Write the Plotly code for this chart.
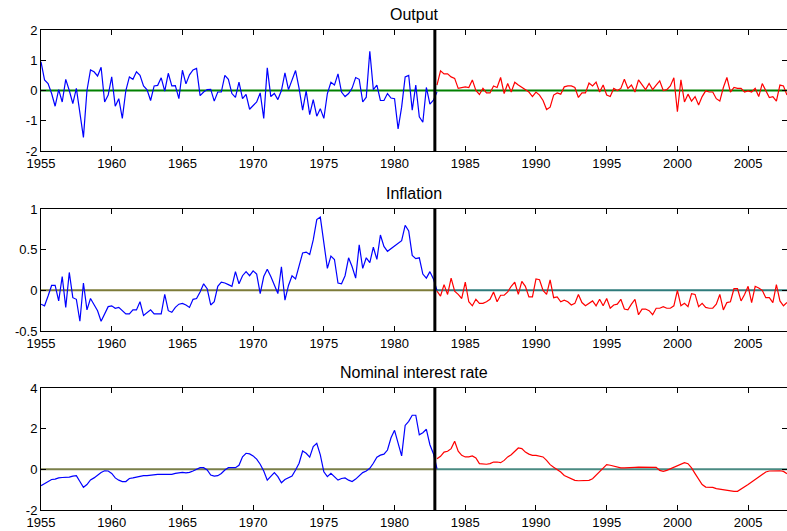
import plotly.graph_objects as go
from plotly.subplots import make_subplots

# quarterly data, 1955Q1 .. 2007Q4; break in 1983Q1
start_year = 1955
break_index = 112
break_line = 1982.85

output_pre = [
    0.95, 0.35, 0.23, -0.1, -0.52, 0.03, -0.38, 0.37, 0.0, -0.43,
    0.07, -0.77, -1.55, 0.0, 0.68, 0.62, 0.48, 0.77, -0.38, -0.15,
    0.45, -0.52, -0.27, -0.92, 0.0, 0.45, 0.37, 0.62, 0.5, 0.15,
    0.02, -0.33, 0.15, 0.17, 0.42, -0.02, 0.57, 0.15, 0.16, -0.27,
    0.67, 0.22, 0.52, 0.68, 0.73, -0.17, -0.05, 0.03, 0.04, -0.35,
    -0.05, -0.05, 0.5, 0.37, -0.1, -0.23, 0.28, -0.27, -0.13, -0.62,
    -0.5, -0.38, -0.08, -0.92, 0.75, -0.2, -0.1, -0.3, 0.0, 0.58,
    0.03, 0.35, 0.66, 0.07, -0.65, -0.01, -0.8, -0.3, -0.85, -0.6,
    -0.92, -0.1, 0.27, 0.18, 0.55, -0.05, -0.2, -0.1, 0.08, 0.43,
    0.37, -0.38, -0.22, 1.3, 0.03, 0.18, -0.33, -0.33, -0.1, -0.25,
    -0.27, -1.27, -0.55, 0.45, 0.5, -0.65, 0.18, -0.87, -1.05, 0.1,
    -0.45, -0.32, -0.05,
]
output_post = [
    0.18, 0.65, 0.55, 0.55, 0.45, 0.4, 0.07, 0.1, 0.12, 0.1,
    0.35, 0.0, -0.13, 0.07, -0.08, -0.08, 0.15, 0.1, 0.43, -0.1,
    0.23, -0.05, 0.27, 0.18, 0.1, 0.03, -0.05, -0.2, -0.05, -0.15,
    -0.33, -0.63, -0.55, -0.15, -0.08, -0.12, 0.12, 0.15, 0.15, 0.1,
    -0.23, -0.08, -0.08, 0.25, 0.15, 0.28, -0.05, 0.18, -0.15, -0.2,
    0.07, 0.0, 0.07, 0.37, 0.07, 0.18, -0.05, 0.35, 0.18, 0.03,
    0.23, 0.03, 0.18, 0.32, 0.0, 0.03, 0.15, 0.42, -0.7, 0.35,
    -0.38, -0.12, -0.35, -0.2, -0.48, -0.2, -0.01, -0.05, -0.05, -0.27,
    -0.35, 0.1, 0.43, -0.05, 0.1, 0.07, 0.07, -0.05, -0.01, -0.05,
    0.07, -0.2, 0.23, 0.0, -0.23, -0.2, -0.35, 0.18, 0.15, -0.15,
]

inflation_pre = [
    -0.17, -0.19, -0.07, 0.06, 0.06, -0.13, 0.17, -0.21, 0.22, -0.09,
    -0.11, -0.38, 0.09, -0.24, -0.1, -0.17, -0.25, -0.38, -0.29, -0.2,
    -0.19, -0.22, -0.21, -0.25, -0.29, -0.29, -0.24, -0.24, -0.14, -0.31,
    -0.27, -0.24, -0.29, -0.29, -0.29, -0.05, -0.25, -0.27, -0.21, -0.17,
    -0.16, -0.18, -0.21, -0.11, -0.1, -0.02, 0.08, 0.02, -0.18, -0.14,
    0.05, 0.1, 0.09, 0.07, 0.05, 0.23, 0.08, 0.18, 0.23, 0.18,
    0.24, 0.2, -0.04, 0.17, 0.26, 0.17, 0.06, -0.04, 0.29, -0.12,
    0.06, 0.18, 0.14, 0.29, 0.46, 0.47, 0.44, 0.62, 0.87, 0.9,
    0.58, 0.27, 0.42, 0.38, 0.09, 0.08, 0.18, 0.4, 0.29, 0.15,
    0.56, 0.27, 0.4, 0.34, 0.53, 0.38, 0.68, 0.54, 0.48, 0.51,
    0.54, 0.57, 0.61, 0.8, 0.73, 0.43, 0.39, 0.4, 0.2, 0.15,
    0.23, 0.14, 0.0,
]
inflation_post = [
    -0.01, -0.07, 0.07, -0.05, 0.15, -0.01, -0.05, -0.1, 0.1, -0.14,
    -0.19, -0.11, -0.16, -0.16, -0.14, -0.11, -0.02, -0.14, -0.06, -0.06,
    -0.02, 0.05, 0.1, -0.05, 0.11, 0.05, -0.08, -0.08, 0.14, 0.13,
    0.0, -0.05, 0.13, -0.09, -0.08, -0.14, -0.12, -0.14, -0.18, -0.16,
    -0.05, -0.15, -0.19, -0.16, -0.13, -0.19, -0.11, -0.19, -0.1, -0.22,
    -0.18, -0.17, -0.11, -0.23, -0.24, -0.17, -0.11, -0.3, -0.23, -0.23,
    -0.25, -0.3, -0.22, -0.22, -0.2, -0.22, -0.22, -0.19, 0.0, -0.19,
    -0.16, -0.2, -0.04, -0.05, -0.2, -0.16, -0.21, -0.22, -0.22, -0.17,
    -0.05, -0.24, -0.15, -0.14, 0.02, 0.02, -0.13, -0.05, 0.05, -0.15,
    0.05, 0.03, 0.0, -0.09, -0.09, -0.15, 0.07, -0.13, -0.19, -0.15,
]

rate_pre = [
    -0.8, -0.7, -0.56, -0.5, -0.48, -0.42, -0.4, -0.4, -0.38, -0.33,
    -0.31, -0.6, -0.88, -0.75, -0.52, -0.42, -0.28, -0.15, -0.07, -0.08,
    -0.2, -0.42, -0.53, -0.6, -0.6, -0.45, -0.42, -0.38, -0.33, -0.31,
    -0.31, -0.28, -0.28, -0.25, -0.25, -0.25, -0.23, -0.25, -0.2, -0.17,
    -0.15, -0.17, -0.15, -0.08, 0.02, 0.08, 0.08, -0.03, -0.28, -0.33,
    -0.31, -0.2, -0.03, 0.08, 0.08, 0.08, 0.2, 0.62, 0.79, 0.76,
    0.66, 0.5, 0.25, -0.08, -0.53, -0.36, -0.16, -0.36, -0.66, -0.5,
    -0.41, -0.33, -0.03, 0.3, 0.9, 0.79, 0.6, 1.12, 1.28, 0.71,
    -0.12, -0.36, -0.2, -0.36, -0.53, -0.45, -0.42, -0.53, -0.6, -0.48,
    -0.31, -0.16, -0.08, 0.05, 0.3, 0.6, 0.7, 0.75, 0.95, 1.55,
    1.92, 1.3, 0.66, 2.16, 2.36, 2.66, 2.66, 1.7, 1.8, 1.97,
    1.21, 0.77, 0.03,
]
rate_post = [
    0.52, 0.64, 0.85, 0.89, 1.02, 1.38, 0.89, 0.69, 0.61, 0.61,
    0.66, 0.56, 0.28, 0.25, 0.25, 0.28, 0.36, 0.36, 0.33, 0.44,
    0.61, 0.72, 0.89, 1.05, 1.02, 0.85, 0.75, 0.69, 0.69, 0.66,
    0.61, 0.44, 0.23, 0.1, 0.0, -0.13, -0.3, -0.38, -0.46, -0.54,
    -0.56, -0.56, -0.56, -0.54, -0.46, -0.3, -0.1, 0.07, 0.23, 0.2,
    0.16, 0.1, 0.07, 0.07, 0.07, 0.07, 0.1, 0.11, 0.11, 0.11,
    0.11, 0.11, 0.1, -0.05, -0.1, -0.05, 0.03, 0.1, 0.16, 0.28,
    0.33, 0.28, 0.07, -0.21, -0.46, -0.75, -0.87, -0.87, -0.89, -0.95,
    -0.98, -1.02, -1.03, -1.07, -1.08, -1.08, -0.98, -0.87, -0.75, -0.62,
    -0.49, -0.38, -0.26, -0.13, -0.08, -0.07, -0.07, -0.07, -0.1, -0.21,
]

titles = ['Output', 'Inflation', 'Nominal interest rate']
y_ranges = [[-2, 2], [-0.5, 1], [-2, 4]]
y_ticks = [[-2, -1, 0, 1, 2], [-0.5, 0, 0.5, 1], [-2, 0, 2, 4]]
y_ticktext = [['-2', '-1', '0', '1', '2'], ['-0.5', '0', '0.5', '1'], ['-2', '0', '2', '4']]
x_ticks = [1955, 1960, 1965, 1970, 1975, 1980, 1985, 1990, 1995, 2000, 2005]

# zero line colours (before / after the break)
zero_colors = [('#008000', '#008000'), ('#7d7b38', '#2e7b7b'), ('#7a7f4a', '#4a8a82')]

domains = [[0.7156, 0.9435], [0.3766, 0.6064], [0.0395, 0.2693]]

series = [(output_pre, output_post), (inflation_pre, inflation_post), (rate_pre, rate_post)]

fig = make_subplots(rows=3, cols=1)

font = dict(family='Liberation Sans, Arial, sans-serif', size=13, color='#000000')
end_x = start_year + (break_index + len(output_post) - 1) / 4

for k, (pre, post) in enumerate(series):
    row = k + 1
    x_pre = [start_year + i / 4 for i in range(len(pre))]
    x_post = [start_year + (break_index + i) / 4 for i in range(len(post))]

    # zero lines
    fig.add_trace(go.Scatter(x=[start_year, x_pre[-1]], y=[0, 0], mode='lines',
                             line=dict(color=zero_colors[k][0], width=2),
                             showlegend=False, hoverinfo='skip'), row=row, col=1)
    fig.add_trace(go.Scatter(x=[x_post[0], end_x], y=[0, 0], mode='lines',
                             line=dict(color=zero_colors[k][1], width=2),
                             showlegend=False, hoverinfo='skip'), row=row, col=1)

    fig.add_trace(go.Scatter(x=x_pre, y=pre, mode='lines',
                             line=dict(color='#0000ff', width=1.2),
                             showlegend=False), row=row, col=1)
    fig.add_trace(go.Scatter(x=x_post, y=post, mode='lines',
                             line=dict(color='#ff0000', width=1.2),
                             showlegend=False), row=row, col=1)

    suffix = '' if row == 1 else str(row)
    fig.add_shape(type='line', xref='x' + suffix, yref='y' + suffix + ' domain',
                  x0=break_line, x1=break_line, y0=0, y1=1,
                  line=dict(color='#000000', width=3))

    fig.add_annotation(text=titles[k], xref='x' + suffix + ' domain', yref='y' + suffix + ' domain',
                       x=0.5, y=1, yanchor='bottom', yshift=5, showarrow=False,
                       font=dict(family=font['family'], size=16, color='#000000'))

    fig.update_xaxes(range=[start_year, end_x], tickvals=x_ticks,
                     ticks='inside', ticklen=5, tickcolor='#000000',
                     showline=True, linecolor='#000000', linewidth=1, mirror='ticks',
                     showgrid=False, zeroline=False, domain=[0, 1], automargin=False,
                     tickfont=font, row=row, col=1)
    fig.update_yaxes(range=y_ranges[k], tickvals=y_ticks[k], ticktext=y_ticktext[k],
                     ticks='inside', ticklen=5, tickcolor='#000000',
                     showline=True, linecolor='#000000', linewidth=1, mirror='ticks',
                     showgrid=False, zeroline=False, domain=domains[k], automargin=False,
                     tickfont=font, row=row, col=1)

fig.update_layout(
    template='none',
    width=787,
    height=531,
    margin=dict(l=41, r=0, t=0, b=0),
    paper_bgcolor='white',
    plot_bgcolor='white',
    font=font,
    showlegend=False,
)

fig.write_html("out.html", config={'displayModeBar': False},
               post_script="document.body.style.margin='0';")
